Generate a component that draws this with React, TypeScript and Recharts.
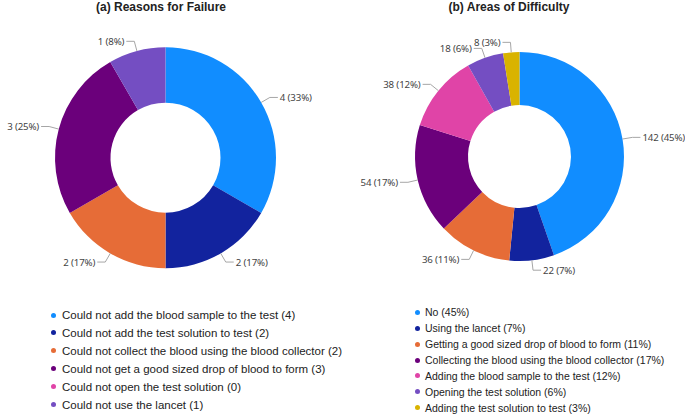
import { PieChart, Pie, Cell } from 'recharts'

const failureReasons = [
  'Could not add the blood sample to the test',
  'Could not add the test solution to test',
  'Could not collect the blood using the blood collector',
  'Could not get a good sized drop of blood to form',
  'Could not open the test solution',
  'Could not use the lancet',
]
const failureCounts = [4, 2, 2, 3, 0, 1]

const difficultyAreas = [
  'No',
  'Using the lancet',
  'Getting a good sized drop of blood to form',
  'Collecting the blood using the blood collector',
  'Adding the blood sample to the test',
  'Opening the test solution',
  'Adding the test solution to test',
]
const difficultyCounts = [142, 22, 36, 54, 38, 18, 8]

const palette = ['#118DFF', '#12239E', '#E66C37', '#6B007B', '#E044A7', '#744EC2', '#D9B300']

const failureData = failureReasons.map((name, i) => ({ name, value: failureCounts[i] }))
const difficultyData = difficultyAreas.map((name, i) => ({ name, value: difficultyCounts[i] }))

const difficultyTotal = difficultyCounts.reduce((a, b) => a + b, 0)

const RAD = Math.PI / 180
const labelFont = '"Noto Sans", "Open Sans", sans-serif'

function SliceLabel(props: any) {
  const { cx, cy, midAngle, outerRadius, value, percent } = props
  if (!value) return null
  const cos = Math.cos(-midAngle * RAD)
  const sin = Math.sin(-midAngle * RAD)
  const sx = cx + outerRadius * cos
  const sy = cy + outerRadius * sin
  const mx = cx + (outerRadius + 10) * cos
  const my = cy + (outerRadius + 10) * sin
  const dir = cos >= 0 ? 1 : -1
  const ex = mx + dir * 8
  return (
    <g>
      <polyline points={`${sx},${sy} ${mx},${my} ${ex},${my}`} fill="none" stroke="#a6a6a6" strokeWidth={1} />
      <text
        x={ex + dir * 2}
        y={my}
        textAnchor={dir > 0 ? 'start' : 'end'}
        dominantBaseline="central"
        fill="#444"
        fontSize={9.7}
        letterSpacing={-0.15}
        fontFamily={labelFont}
      >
        {`${value} (${Math.round(percent * 100)}%)`}
      </text>
    </g>
  )
}

function LegendList({ items, colors, dotX, textX, top, step, fontSize }: {
  items: string[]; colors: string[]; dotX: number; textX: number; top: number; step: number; fontSize: number
}) {
  return (
    <>
      {items.map((t, i) => {
        const yc = top + i * step
        return (
          <div key={t}>
            <span style={{
              position: 'absolute', left: dotX - 2.5, top: yc - 2.5, width: 5, height: 5,
              borderRadius: '50%', background: colors[i],
            }} />
            <div style={{
              position: 'absolute', left: textX, top: yc - 7, height: 14, lineHeight: '14px',
              fontSize, color: '#222', whiteSpace: 'nowrap',
            }}>{t}</div>
          </div>
        )
      })}
    </>
  )
}

export default function App() {
  return (
    <div style={{
      position: 'absolute', left: 0, top: 0, width: 685, height: 414, background: '#fff',
      fontFamily: '"Liberation Sans", Arial, sans-serif', overflow: 'hidden',
    }}>
      <PieChart
        width={685}
        height={414}
        margin={{ top: 0, right: 0, bottom: 0, left: 0 }}
        style={{ position: 'absolute', left: 0, top: 0 }}
      >
        <Pie
          data={failureData}
          dataKey="value"
          cx={165.5}
          cy={157.7}
          innerRadius={55}
          outerRadius={110.5}
          startAngle={90}
          endAngle={-270}
          stroke="none"
          label={SliceLabel}
          labelLine={false}
          isAnimationActive={false}
        >
          {failureData.map((d, i) => <Cell key={d.name} fill={palette[i]} />)}
        </Pie>
        <Pie
          data={difficultyData}
          dataKey="value"
          cx={519.5}
          cy={156.5}
          innerRadius={51.5}
          outerRadius={104.5}
          startAngle={90}
          endAngle={-270}
          stroke="none"
          label={SliceLabel}
          labelLine={false}
          isAnimationActive={false}
        >
          {difficultyData.map((d, i) => <Cell key={d.name} fill={palette[i]} />)}
        </Pie>
      </PieChart>

      <div style={{ position: 'absolute', left: 61, width: 200, top: 0, textAlign: 'center', fontWeight: 'bold', fontSize: 12, lineHeight: '14px', color: '#222' }}>
        (a) Reasons for Failure
      </div>
      <div style={{ position: 'absolute', left: 409, width: 200, top: 0, textAlign: 'center', fontWeight: 'bold', fontSize: 12, lineHeight: '14px', color: '#222' }}>
        (b) Areas of Difficulty
      </div>

      <LegendList
        items={failureReasons.map((n, i) => `${n} (${failureCounts[i]})`)}
        colors={palette}
        dotX={53}
        textX={62}
        top={315}
        step={17.9}
        fontSize={11.5}
      />
      <LegendList
        items={difficultyAreas.map((n, i) => `${n} (${Math.round((difficultyCounts[i] / difficultyTotal) * 100)}%)`)}
        colors={palette}
        dotX={417}
        textX={425}
        top={312.3}
        step={15.9}
        fontSize={10.5}
      />
    </div>
  )
}
